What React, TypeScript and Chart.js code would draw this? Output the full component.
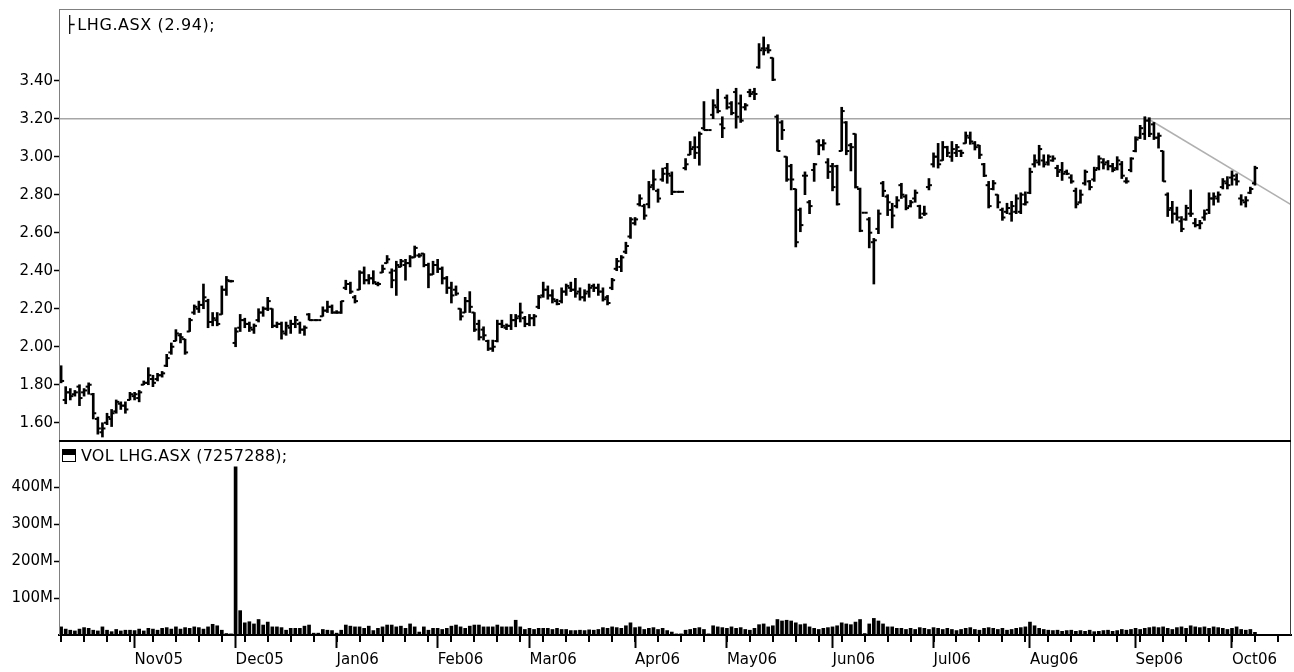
import React, { useEffect, useRef } from 'react';
import { Chart, registerables } from 'chart.js';

Chart.register(...registerables);

// ---- Data (index = trading weekday starting Mon 10 Oct 2005) ----
const opens = [
  1.88,1.72,1.76,1.75,1.79,1.76,1.79,1.75,1.62,1.55,
  1.60,1.62,1.66,1.70,1.69,1.72,1.74,1.73,1.80,1.81,
  1.83,1.83,1.85,1.90,1.97,2.03,2.06,2.04,2.08,2.18,
  2.20,2.22,2.24,2.13,2.14,2.17,2.30,2.345,2.02,2.10,
  2.14,2.12,2.09,2.14,2.18,2.20,2.20,2.11,2.12,2.07,
  2.10,2.12,2.12,2.09,2.17,2.14,2.14,2.16,2.19,2.21,
  2.18,2.18,2.31,2.33,2.26,2.30,2.39,2.35,2.36,2.33,
  2.39,2.44,2.39,2.40,2.42,2.43,2.44,2.47,2.48,2.49,
  2.43,2.38,2.43,2.41,2.36,2.31,2.30,2.20,2.18,2.24,
  2.18,2.12,2.09,2.03,1.99,2.03,2.12,2.10,2.11,2.14,
  2.16,2.15,2.12,2.15,2.21,2.27,2.30,2.27,2.24,2.24,
  2.29,2.31,2.30,2.29,2.26,2.29,2.32,2.31,2.29,2.26,
  2.31,2.41,2.42,2.50,2.58,2.65,2.75,2.74,2.75,2.85,
  2.82,2.88,2.94,2.90,2.815,2.815,2.94,3.01,3.05,3.05,
  3.15,3.14,3.22,3.26,3.17,3.31,3.28,3.34,3.28,3.26,
  3.34,3.34,3.47,3.57,3.57,3.52,3.21,3.18,3.00,2.95,
  2.83,2.72,2.90,2.76,2.93,3.08,3.06,2.97,2.95,2.95,
  3.03,3.18,3.06,3.12,2.83,2.705,2.67,2.55,2.62,2.86,
  2.79,2.72,2.74,2.85,2.79,2.74,2.78,2.74,2.70,2.84,
  2.96,3.00,2.98,3.05,3.00,3.02,3.03,3.07,3.10,3.07,
  3.06,2.96,2.85,2.83,2.80,2.72,2.71,2.70,2.71,2.71,
  2.75,2.81,2.96,2.97,2.98,2.97,2.98,2.94,2.93,2.92,
  2.89,2.82,2.76,2.86,2.87,2.88,2.94,2.97,2.97,2.95,
  2.94,2.96,2.87,2.93,3.03,3.10,3.12,3.19,3.17,3.10,
  3.03,2.80,2.73,2.70,2.66,2.67,2.70,2.65,2.64,2.68,
  2.72,2.78,2.78,2.84,2.86,2.89,2.88,2.78,2.76,2.81,
  2.86,
];

const highs = [
  1.90,1.79,1.78,1.77,1.80,1.78,1.81,1.755,1.63,1.60,
  1.65,1.67,1.72,1.71,1.71,1.76,1.76,1.77,1.82,1.89,
  1.85,1.86,1.87,1.96,2.02,2.09,2.07,2.04,2.15,2.22,
  2.24,2.33,2.25,2.18,2.18,2.32,2.37,2.35,2.10,2.17,
  2.15,2.13,2.12,2.20,2.21,2.26,2.20,2.13,2.13,2.13,
  2.14,2.16,2.13,2.11,2.175,2.14,2.14,2.21,2.24,2.22,
  2.19,2.24,2.35,2.34,2.27,2.40,2.42,2.38,2.40,2.34,
  2.43,2.48,2.41,2.45,2.46,2.46,2.48,2.53,2.49,2.49,
  2.44,2.45,2.46,2.42,2.37,2.34,2.32,2.20,2.26,2.29,
  2.18,2.14,2.105,2.035,2.035,2.14,2.14,2.12,2.17,2.17,
  2.23,2.16,2.17,2.17,2.27,2.34,2.32,2.30,2.25,2.31,
  2.33,2.34,2.36,2.31,2.30,2.33,2.33,2.33,2.31,2.27,
  2.36,2.465,2.48,2.55,2.68,2.68,2.80,2.75,2.87,2.93,
  2.83,2.94,2.965,2.92,2.815,2.815,2.99,3.08,3.105,3.13,
  3.29,3.14,3.30,3.355,3.21,3.325,3.29,3.36,3.325,3.28,
  3.355,3.36,3.595,3.63,3.59,3.52,3.22,3.19,3.00,2.96,
  2.83,2.73,2.92,2.77,2.965,3.09,3.09,2.99,2.965,2.955,
  3.26,3.185,3.07,3.12,2.835,2.705,2.68,2.57,2.72,2.87,
  2.80,2.755,2.79,2.86,2.80,2.77,2.825,2.745,2.74,2.885,
  3.02,3.07,3.08,3.055,3.08,3.065,3.035,3.13,3.13,3.08,
  3.06,2.965,2.87,2.875,2.80,2.73,2.755,2.765,2.80,2.81,
  2.815,2.94,3.01,3.06,3.01,3.01,3.005,2.955,2.97,2.93,
  2.905,2.835,2.825,2.93,2.875,2.945,3.005,2.99,2.98,2.965,
  3.00,2.975,2.89,2.995,3.105,3.165,3.21,3.205,3.18,3.125,
  3.03,2.81,2.765,2.735,2.685,2.745,2.825,2.675,2.665,2.72,
  2.81,2.81,2.815,2.885,2.895,2.925,2.91,2.80,2.79,2.84,
  2.95,
];

const lows = [
  1.81,1.70,1.72,1.74,1.69,1.74,1.75,1.62,1.54,1.525,
  1.59,1.58,1.65,1.67,1.65,1.72,1.72,1.71,1.80,1.80,
  1.79,1.82,1.84,1.895,1.96,2.03,2.02,1.96,2.08,2.17,
  2.18,2.20,2.10,2.11,2.11,2.17,2.27,2.34,2.00,2.08,
  2.10,2.08,2.07,2.13,2.16,2.19,2.10,2.10,2.04,2.06,
  2.07,2.10,2.07,2.06,2.14,2.14,2.14,2.16,2.18,2.175,
  2.175,2.175,2.30,2.28,2.23,2.30,2.33,2.33,2.33,2.32,
  2.39,2.44,2.31,2.27,2.42,2.35,2.42,2.47,2.47,2.42,
  2.31,2.38,2.39,2.33,2.28,2.23,2.27,2.14,2.18,2.18,
  2.08,2.035,2.035,1.98,1.975,2.025,2.10,2.09,2.09,2.105,
  2.13,2.105,2.11,2.11,2.20,2.26,2.25,2.23,2.22,2.23,
  2.27,2.29,2.26,2.245,2.24,2.26,2.29,2.27,2.24,2.22,
  2.30,2.40,2.395,2.49,2.57,2.64,2.74,2.67,2.73,2.825,
  2.76,2.87,2.86,2.80,2.815,2.815,2.93,3.01,2.99,2.955,
  3.14,3.14,3.20,3.23,3.10,3.25,3.22,3.15,3.18,3.245,
  3.315,3.30,3.465,3.535,3.545,3.40,3.03,3.09,2.87,2.825,
  2.525,2.605,2.80,2.70,2.87,3.01,3.035,2.885,2.82,2.745,
  3.03,3.01,2.925,2.835,2.605,2.705,2.52,2.33,2.595,2.79,
  2.69,2.625,2.73,2.78,2.72,2.735,2.76,2.675,2.69,2.825,
  2.945,2.94,2.98,3.00,2.975,3.00,3.00,3.07,3.065,3.035,
  2.99,2.895,2.73,2.825,2.73,2.665,2.70,2.66,2.70,2.70,
  2.745,2.805,2.945,2.955,2.945,2.955,2.975,2.895,2.875,2.905,
  2.86,2.73,2.755,2.85,2.825,2.87,2.93,2.935,2.93,2.92,
  2.93,2.885,2.86,2.92,3.025,3.095,3.09,3.105,3.09,3.045,
  2.87,2.685,2.65,2.665,2.605,2.665,2.685,2.63,2.62,2.665,
  2.70,2.745,2.76,2.83,2.83,2.85,2.85,2.745,2.735,2.805,
  2.85,
];

const closes = [
  1.82,1.76,1.74,1.76,1.73,1.77,1.80,1.65,1.57,1.57,
  1.63,1.65,1.71,1.69,1.67,1.75,1.75,1.76,1.81,1.85,
  1.81,1.85,1.86,1.94,2.00,2.07,2.05,1.97,2.14,2.21,
  2.22,2.26,2.13,2.15,2.12,2.30,2.35,2.345,2.08,2.14,
  2.12,2.10,2.11,2.18,2.20,2.24,2.11,2.12,2.08,2.11,
  2.12,2.14,2.09,2.10,2.14,2.14,2.14,2.19,2.21,2.18,
  2.18,2.24,2.33,2.29,2.24,2.39,2.35,2.36,2.34,2.33,
  2.41,2.46,2.35,2.43,2.45,2.44,2.47,2.52,2.48,2.43,
  2.38,2.43,2.41,2.36,2.31,2.27,2.28,2.16,2.24,2.21,
  2.09,2.05,2.06,1.99,2.00,2.12,2.11,2.11,2.14,2.15,
  2.18,2.12,2.15,2.16,2.26,2.30,2.27,2.25,2.225,2.29,
  2.32,2.30,2.28,2.26,2.28,2.31,2.31,2.29,2.25,2.23,
  2.35,2.45,2.47,2.53,2.67,2.67,2.78,2.69,2.84,2.88,
  2.78,2.91,2.91,2.815,2.815,2.815,2.96,3.04,3.02,3.12,
  3.14,3.14,3.27,3.24,3.15,3.26,3.23,3.21,3.19,3.27,
  3.33,3.33,3.56,3.56,3.56,3.405,3.03,3.14,2.88,2.88,
  2.55,2.64,2.90,2.74,2.96,3.06,3.07,2.92,2.84,2.75,
  3.24,3.03,3.05,2.84,2.61,2.705,2.60,2.56,2.70,2.82,
  2.76,2.69,2.77,2.80,2.73,2.76,2.81,2.68,2.70,2.85,
  3.00,2.96,3.05,3.02,3.04,3.05,3.02,3.11,3.08,3.05,
  3.01,2.90,2.74,2.86,2.76,2.68,2.73,2.74,2.78,2.80,
  2.76,2.92,2.98,3.04,2.96,3.00,2.99,2.92,2.91,2.91,
  2.87,2.75,2.80,2.92,2.84,2.93,2.99,2.96,2.95,2.93,
  2.98,2.90,2.87,2.99,3.09,3.15,3.19,3.12,3.10,3.11,
  2.87,2.72,2.70,2.68,2.62,2.73,2.70,2.64,2.65,2.70,
  2.78,2.79,2.80,2.87,2.85,2.90,2.87,2.77,2.77,2.83,
  2.94,
];

// volume in millions of shares
const volumesM = [
  22,16,13,11,16,20,18,13,11,22,
  13,9,15,11,13,13,12,16,11,18,
  16,13,18,20,16,22,16,20,18,22,
  20,16,22,29,25,13,4,3,456,66,
  33,36,30,42,27,35,22,22,20,13,
  18,18,18,24,27,5,5,15,13,12,
  5,13,27,24,22,22,18,24,12,18,
  22,27,27,22,24,18,30,22,8,22,
  13,18,18,15,18,24,27,22,18,24,
  27,27,22,22,22,27,22,22,22,40,
  22,15,18,15,18,18,18,15,18,15,
  15,12,12,13,12,14,13,15,20,18,
  22,20,18,25,33,20,22,15,18,20,
  15,18,12,8,3,3,13,15,18,20,
  15,3,25,22,20,18,22,18,20,15,
  13,18,28,30,22,25,42,38,40,38,
  33,28,30,22,18,15,18,20,22,25,
  33,30,28,35,42,4,30,45,38,30,
  22,22,18,18,15,18,15,20,18,15,
  20,18,15,18,15,12,15,18,20,15,
  13,18,20,18,15,18,13,15,18,20,
  22,35,25,18,15,13,12,13,10,12,
  13,10,12,10,13,9,10,12,13,10,
  12,15,13,15,18,15,18,20,22,20,
  22,18,15,20,22,18,25,22,20,22,
  18,22,20,18,15,18,22,15,13,15,
  7.26,
];

const priceTicks = [1.6, 1.8, 2.0, 2.2, 2.4, 2.6, 2.8, 3.0, 3.2, 3.4];
const volumeTicks = [100, 200, 300, 400];
const volumeTickLabels = ['100M', '200M', '300M', '400M'];
const monthTickIdx = [16, 38, 60, 82, 102, 125, 145, 168, 190, 211, 234, 255];
const monthLabels = ['Nov05', 'Dec05', 'Jan06', 'Feb06', 'Mar06', 'Apr06', 'May06', 'Jun06', 'Jul06', 'Aug06', 'Sep06', 'Oct06'];
const resistanceLevel = [3.2];
const trendIdx = [236, 268];
const trendPrice = [3.21, 2.745];
const priceLegend = 'LHG.ASX (2.94);';
const volumeLegend = 'VOL LHG.ASX (7257288);';

const X_MIN = -0.46;
const X_MAX = 267.85;
const FONT = 'DejaVu Sans';

// minor tick every Monday (every 5 weekdays)
const weeklyTicks: number[] = [];
for (let k = 0; k * 5 <= X_MAX; k++) weeklyTicks.push(k * 5);

const noPad = (s: any) => {
  s.paddingTop = 0;
  s.paddingBottom = 0;
  s.paddingLeft = 0;
  s.paddingRight = 0;
};

const framePlugin = (bottomBlack: boolean, topBlack: boolean) => ({
  id: 'frame' + (bottomBlack ? 'B' : '') + (topBlack ? 'T' : ''),
  afterDraw(chart: any) {
    const { ctx, chartArea } = chart;
    const { left, top, right, bottom } = chartArea;
    ctx.save();
    ctx.strokeStyle = '#808080';
    ctx.lineWidth = 1;
    ctx.beginPath();
    ctx.moveTo(left + 0.5, top);
    ctx.lineTo(left + 0.5, bottom);
    ctx.stroke();
    ctx.strokeStyle = '#404040';
    ctx.beginPath();
    ctx.moveTo(right - 0.5, top);
    ctx.lineTo(right - 0.5, bottom);
    ctx.stroke();
    if (!topBlack) {
      ctx.strokeStyle = '#808080';
      ctx.beginPath();
      ctx.moveTo(left, top + 0.5);
      ctx.lineTo(right, top + 0.5);
      ctx.stroke();
    } else {
      ctx.fillStyle = '#000';
      ctx.fillRect(left, top, right - left, 1);
    }
    if (bottomBlack) {
      ctx.fillStyle = '#000';
      ctx.fillRect(left, bottom - 1, right - left, 1);
    }
    ctx.restore();
  },
});

// weekly minor tick marks placed through the x scale
const weeklyTickPlugin = {
  id: 'weeklyTicks',
  afterDraw(chart: any) {
    const { ctx, chartArea } = chart;
    const xs = chart.scales.x;
    ctx.save();
    ctx.fillStyle = '#000';
    for (const v of weeklyTicks) {
      const px = Math.round(xs.getPixelForValue(v));
      ctx.fillRect(px - 1, chartArea.bottom + 1, 2, 6);
    }
    ctx.restore();
  },
};

export default function App() {
  const priceRef = useRef<HTMLCanvasElement>(null);
  const volRef = useRef<HTMLCanvasElement>(null);

  useEffect(() => {
    const priceChart = new Chart(priceRef.current as HTMLCanvasElement, {
      type: 'bar',
      data: {
        datasets: [
          {
            type: 'bar',
            data: highs.map((h, i) => ({ x: i, y: [lows[i], h] })) as any,
            backgroundColor: '#000',
            borderWidth: 0,
            barThickness: 2,
          } as any,
          {
            type: 'line',
            data: opens.map((o, i) => ({ x: i, y: o })),
            showLine: false,
            pointStyle: 'dash',
            pointRotation: 180,
            pointRadius: 3,
            pointHoverRadius: 3,
            pointBorderWidth: 2,
            pointBorderColor: '#000',
            pointBackgroundColor: '#000',
          } as any,
          {
            type: 'line',
            data: closes.map((c, i) => ({ x: i, y: c })),
            showLine: false,
            pointStyle: 'dash',
            pointRotation: 0,
            pointRadius: 3,
            pointHoverRadius: 3,
            pointBorderWidth: 2,
            pointBorderColor: '#000',
            pointBackgroundColor: '#000',
          } as any,
          {
            type: 'line',
            data: [
              { x: X_MIN, y: resistanceLevel[0] },
              { x: X_MAX, y: resistanceLevel[0] },
            ],
            borderColor: '#a6a6a6',
            borderWidth: 1.5,
            pointRadius: 0,
          } as any,
          {
            type: 'line',
            data: trendIdx.map((x, k) => ({ x, y: trendPrice[k] })),
            borderColor: '#b0b0b0',
            borderWidth: 1.5,
            pointRadius: 0,
          } as any,
        ],
      },
      options: {
        animation: false,
        responsive: false,
        maintainAspectRatio: false,
        events: [],
        layout: { autoPadding: false, padding: { top: 9, right: 3, bottom: 1, left: 0 } },
        plugins: { legend: { display: false }, tooltip: { enabled: false } },
        scales: {
          x: { type: 'linear', min: X_MIN, max: X_MAX, offset: false, display: false, grid: { offset: false } },
          y: {
            type: 'linear',
            min: 1.504,
            max: 3.777,
            afterBuildTicks: (s: any) => {
              s.ticks = priceTicks.map((v) => ({ value: v }));
            },
            afterFit: (s: any) => {
              s.width = 59;
              noPad(s);
            },
            ticks: {
              callback: (v: any) => Number(v).toFixed(2),
              color: '#000',
              font: { family: FONT, size: 15 },
              padding: 1,
              autoSkip: false,
            },
            grid: { drawOnChartArea: false, tickLength: 5, tickColor: '#000', tickWidth: 1.5 },
            border: { display: false },
          },
        },
      } as any,
      plugins: [framePlugin(true, false)],
    });

    const volChart = new Chart(volRef.current as HTMLCanvasElement, {
      type: 'bar',
      data: {
        datasets: [
          {
            xAxisID: 'x',
            yAxisID: 'y',
            data: volumesM.map((v, i) => ({ x: i, y: v })),
            backgroundColor: '#000',
            borderWidth: 0,
            barThickness: 3,
          } as any,
        ],
      },
      options: {
        animation: false,
        responsive: false,
        maintainAspectRatio: false,
        events: [],
        layout: { autoPadding: false, padding: { top: 0, right: 3, bottom: 0, left: 0 } },
        plugins: { legend: { display: false }, tooltip: { enabled: false } },
        scales: {
          x: {
            type: 'linear',
            position: 'bottom',
            min: X_MIN,
            max: X_MAX,
            offset: false,
            afterBuildTicks: (s: any) => {
              s.ticks = monthTickIdx.map((v) => ({ value: v }));
            },
            afterFit: (s: any) => {
              s.height = 37;
              noPad(s);
            },
            ticks: {
              autoSkip: false,
              maxRotation: 0,
              minRotation: 0,
              align: 'start',
              callback: (_v: any, idx: number) => monthLabels[idx],
              color: '#000',
              font: { family: FONT, size: 15 },
              padding: 3,
            },
            grid: {
              offset: false,
              drawOnChartArea: false,
              tickLength: 13,
              tickColor: '#000',
              tickWidth: 2,
            },
            border: { display: true, color: '#000', width: 2 },
          },
          y: {
            type: 'linear',
            min: 0,
            max: 525.7,
            afterBuildTicks: (s: any) => {
              s.ticks = volumeTicks.map((v) => ({ value: v }));
            },
            afterFit: (s: any) => {
              s.width = 59;
              noPad(s);
            },
            ticks: {
              callback: (_v: any, idx: number) => volumeTickLabels[idx],
              color: '#000',
              font: { family: FONT, size: 15 },
              padding: 1,
              autoSkip: false,
            },
            grid: { drawOnChartArea: false, tickLength: 5, tickColor: '#000', tickWidth: 1.5 },
            border: { display: false },
          },
        },
      } as any,
      plugins: [framePlugin(false, true), weeklyTickPlugin],
    });

    return () => {
      priceChart.destroy();
      volChart.destroy();
    };
  }, []);

  return (
    <div
      style={{
        position: 'absolute',
        left: 0,
        top: 0,
        width: 1294,
        height: 672,
        background: '#fff',
        overflow: 'hidden',
      }}
    >
      <canvas ref={priceRef} width={1294} height={442} style={{ position: 'absolute', left: 0, top: 0 }} />
      <canvas ref={volRef} width={1294} height={231} style={{ position: 'absolute', left: 0, top: 441 }} />
      <div
        style={{
          position: 'absolute',
          left: 65,
          top: 15,
          font: `16px "${FONT}"`,
          letterSpacing: '0.6px',
          color: '#000',
          whiteSpace: 'nowrap',
        }}
      >
        <span style={{ marginRight: 2 }}>├</span>
        {priceLegend}
      </div>
      <div
        style={{
          position: 'absolute',
          left: 62,
          top: 446,
          font: `16px "${FONT}"`,
          letterSpacing: '0.2px',
          color: '#000',
          whiteSpace: 'nowrap',
          display: 'flex',
          alignItems: 'center',
        }}
      >
        <span
          style={{
            display: 'inline-block',
            width: 14,
            height: 13,
            border: '1px solid #000',
            boxSizing: 'border-box',
            background: 'linear-gradient(#000 0 45%, #fff 45% 100%)',
            marginRight: 5,
          }}
        />
        {volumeLegend}
      </div>
    </div>
  );
}
